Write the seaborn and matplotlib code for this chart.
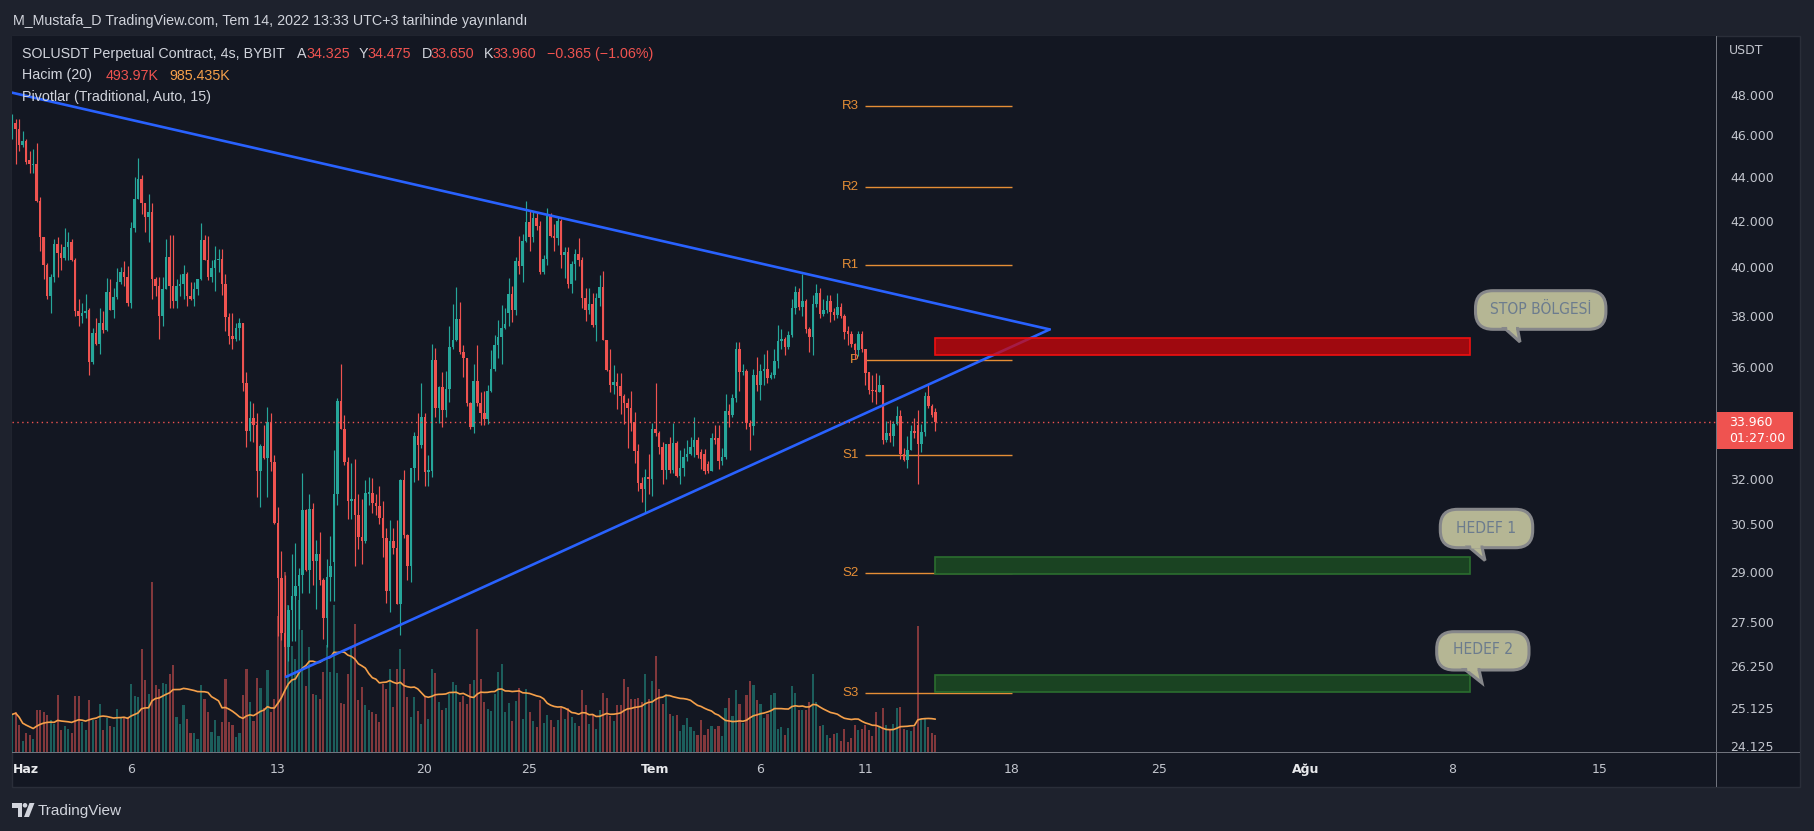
import numpy as np
import pandas as pd
import matplotlib
matplotlib.use("Agg")
import matplotlib.pyplot as plt
import seaborn as sns
from matplotlib.patches import Rectangle, FancyBboxPatch, Polygon, Circle
from matplotlib.transforms import IdentityTransform
from matplotlib.ticker import NullLocator, NullFormatter
from matplotlib import font_manager

# ---------------- data (SOLUSDT 4h, BYBIT) ----------------
opens = [
    45.9, 46.6, 46.3, 45.5, 45.7, 44.8, 44.55, 44.6, 42.9, 41.3,
    40.1, 38.8, 39.6, 41.0, 40.6, 40.4, 40.85, 41.1, 40.3, 38.2,
    38.0, 38.1, 38.25, 36.2, 37.3, 36.9, 37.7, 37.45, 38.97, 38.25,
    38.77, 39.4, 39.8, 39.6, 38.5, 41.7, 43.0, 43.9, 42.8, 42.2,
    42.4, 39.5, 39.2, 38.0, 39.1, 40.45, 39.2, 38.6, 39.2, 39.3,
    39.7, 38.8, 38.7, 39.1, 39.5, 41.15, 40.3, 39.6, 39.95, 40.3,
    40.35, 39.3, 37.95, 37.2, 37.1, 37.5, 37.7, 35.4, 33.65, 34.1,
    33.86, 32.26, 33.12, 32.7, 33.96, 32.57, 30.53, 28.8, 27.2, 26.8,
    27.85, 28.28, 28.57, 28.92, 30.97, 29.06, 31.0, 29.35, 29.54, 28.76,
    27.61, 28.84, 29.3, 31.47, 34.73, 33.72, 32.57, 31.24, 31.31, 30.8,
    30.08, 29.97, 31.5, 31.53, 31.18, 31.09, 30.71, 30.07, 28.42, 29.95,
    29.74, 28.04, 31.97, 30.14, 29.18, 32.37, 33.46, 33.15, 34.17, 32.23,
    32.26, 36.27, 34.49, 35.26, 34.42, 35.19, 36.78, 37.06, 37.89, 36.56,
    36.34, 34.66, 33.79, 35.48, 34.67, 34.31, 34.07, 35.1, 35.93, 36.86,
    37.16, 37.51, 38.11, 38.89, 38.25, 40.28, 40.04, 41.13, 41.94, 41.32,
    42.14, 41.8, 39.82, 40.36, 42.24, 41.35, 41.24, 42.02, 40.52, 40.63,
    39.31, 40.12, 40.55, 40.31, 38.72, 38.25, 38.48, 37.64, 38.72, 39.17,
    37.04, 35.9, 35.33, 35.45, 35.29, 34.91, 34.66, 34.48, 33.97, 32.95,
    31.85, 31.64, 32.07, 31.98, 33.72, 33.58, 33.09, 32.29, 33.19, 32.3,
    33.23, 32.1, 32.37, 32.73, 32.86, 33.1, 33.35, 32.93, 32.86, 32.5,
    32.26, 33.42, 33.4, 32.59, 32.75, 34.37, 34.23, 34.84, 36.71, 35.81,
    35.87, 33.93, 33.84, 35.69, 35.33, 35.84, 35.91, 35.58, 35.69, 36.24,
    37.01, 37.08, 36.78, 37.23, 38.3, 38.97, 38.37, 38.61, 37.46, 37.16,
    38.48, 38.92, 38.07, 38.25, 38.61, 38.14, 38.04, 38.37, 37.99, 37.38,
    37.28, 36.89, 36.64, 37.28, 36.68, 35.8, 35.15, 35.15, 35.08, 35.33,
    33.35, 33.58, 33.46, 33.89, 34.18, 32.86, 32.63, 32.99, 33.64, 33.86,
    33.19, 33.61, 34.91, 34.55, 34.325]
highs = [
    47.0, 46.8, 46.8, 46.2, 45.8, 45.2, 45.3, 45.6, 43.1, 41.3,
    40.2, 39.7, 41.2, 41.3, 41.0, 41.7, 41.5, 41.2, 40.4, 38.7,
    38.5, 38.9, 38.3, 37.5, 37.9, 38.3, 38.2, 39.55, 39.5, 39.15,
    39.95, 40.0, 40.25, 40.05, 41.95, 44.0, 44.9, 44.1, 42.8, 43.2,
    42.8, 39.6, 39.6, 39.6, 41.2, 41.4, 41.4, 39.5, 39.7, 40.1,
    39.8, 39.4, 39.4, 39.5, 41.9, 41.4, 41.35, 40.3, 40.9, 40.8,
    40.8, 39.7, 38.1, 38.1, 37.7, 37.9, 37.7, 35.8, 34.75, 34.65,
    34.3, 33.2, 33.86, 34.5, 34.3, 32.8, 31.05, 29.66, 28.9, 28.0,
    29.55, 29.9, 29.12, 32.2, 31.0, 31.47, 31.18, 30.0, 30.25, 28.82,
    29.41, 30.12, 33.0, 34.84, 36.12, 34.21, 32.73, 32.52, 32.66, 31.5,
    31.31, 31.94, 32.07, 32.03, 31.5, 31.75, 31.24, 30.39, 30.64, 30.37,
    30.62, 32.0, 32.29, 30.2, 32.37, 33.6, 34.31, 35.41, 34.31, 32.8,
    36.89, 36.74, 35.3, 35.82, 35.85, 37.61, 38.48, 39.16, 38.56, 36.86,
    36.34, 34.7, 36.12, 36.86, 35.05, 35.1, 35.33, 36.64, 37.23, 37.84,
    38.45, 38.3, 39.55, 39.23, 40.44, 41.35, 41.43, 42.89, 42.46, 42.46,
    42.37, 42.02, 40.52, 42.59, 42.37, 41.85, 42.19, 42.1, 40.88, 40.85,
    40.28, 40.8, 41.26, 40.44, 39.15, 39.12, 38.92, 38.92, 39.68, 39.84,
    37.04, 36.68, 36.08, 35.77, 35.77, 34.98, 34.84, 35.1, 34.34, 33.19,
    32.07, 32.33, 32.86, 33.93, 35.41, 33.66, 33.26, 33.19, 33.45, 33.93,
    33.3, 32.99, 33.06, 33.33, 33.43, 34.14, 33.45, 33.03, 33.03, 32.6,
    33.58, 33.86, 33.86, 33.06, 34.98, 34.62, 34.98, 36.98, 36.98, 36.12,
    35.91, 34.03, 35.91, 36.39, 36.12, 36.49, 36.64, 35.8, 36.71, 37.64,
    37.46, 37.16, 37.38, 38.69, 39.23, 39.15, 39.71, 38.69, 37.54, 38.84,
    39.31, 39.15, 38.69, 38.84, 38.84, 38.3, 38.92, 38.53, 38.07, 37.61,
    37.38, 36.92, 37.38, 37.38, 36.71, 35.8, 35.69, 35.77, 35.69, 35.33,
    34.0, 34.03, 34.0, 34.55, 34.42, 33.06, 33.46, 33.86, 34.11, 34.4,
    33.89, 35.05, 35.33, 34.62, 34.475]
lows = [
    45.8, 44.6, 45.2, 45.4, 44.6, 44.2, 44.2, 42.85, 40.7, 39.5,
    38.7, 38.1, 39.4, 39.6, 39.9, 40.3, 40.3, 40.25, 38.0, 37.6,
    37.7, 37.9, 35.7, 36.1, 36.85, 36.5, 37.3, 37.4, 38.25, 37.9,
    38.7, 39.3, 39.2, 38.4, 38.3, 41.5, 43.0, 42.3, 41.5, 41.1,
    38.7, 38.8, 37.1, 37.6, 39.1, 38.3, 38.3, 38.3, 38.8, 38.7,
    38.4, 38.65, 38.4, 38.85, 39.47, 40.3, 39.45, 39.4, 39.0, 39.8,
    38.85, 37.4, 36.9, 36.7, 37.0, 37.05, 35.1, 33.1, 33.3, 33.25,
    31.4, 31.05, 32.66, 31.4, 32.26, 30.5, 27.1, 27.0, 25.95, 26.4,
    26.96, 26.96, 27.3, 28.36, 29.04, 28.36, 28.59, 27.9, 28.59, 27.02,
    26.8, 28.13, 28.13, 31.12, 33.72, 32.45, 30.68, 30.68, 29.18, 29.7,
    29.23, 29.9, 31.12, 30.87, 30.8, 30.5, 29.47, 28.07, 27.8, 29.54,
    28.02, 27.13, 30.07, 28.74, 28.69, 31.88, 31.94, 33.06, 31.75, 31.75,
    32.07, 34.15, 33.93, 33.79, 34.15, 34.7, 36.71, 37.0, 36.49, 35.62,
    34.55, 33.72, 33.58, 34.55, 33.86, 33.86, 33.89, 35.05, 35.86, 36.34,
    36.12, 37.49, 37.6, 37.77, 38.04, 39.71, 39.39, 41.1, 40.68, 41.1,
    41.6, 39.71, 39.71, 40.09, 41.3, 40.68, 40.93, 39.95, 39.55, 39.15,
    38.92, 39.47, 40.04, 38.3, 37.79, 38.07, 37.54, 37.01, 38.4, 37.04,
    35.86, 35.05, 35.0, 34.44, 34.26, 33.89, 33.06, 33.66, 32.52, 31.58,
    31.22, 30.9, 31.5, 31.43, 33.46, 32.86, 31.81, 32.0, 32.2, 32.2,
    32.05, 31.81, 32.1, 32.6, 32.8, 32.73, 32.7, 32.33, 32.16, 32.2,
    32.26, 33.2, 32.33, 32.46, 32.66, 33.79, 34.14, 34.7, 35.12, 35.69,
    33.72, 32.99, 33.52, 35.12, 34.77, 35.33, 35.41, 35.55, 35.6, 35.98,
    36.71, 36.45, 36.71, 37.16, 38.07, 38.22, 37.99, 37.31, 36.56, 36.45,
    38.37, 37.92, 38.0, 38.1, 37.77, 37.84, 37.92, 37.92, 37.08, 36.86,
    36.78, 36.29, 36.42, 36.56, 35.33, 34.98, 34.7, 34.62, 35.05, 33.19,
    33.26, 33.26, 33.13, 33.86, 32.66, 32.59, 32.37, 32.99, 33.42, 31.81,
    32.93, 33.46, 34.48, 34.14, 33.65]
closes = [
    46.9, 46.3, 45.5, 45.7, 44.7, 44.6, 44.6, 42.9, 41.3, 40.1,
    38.8, 39.6, 41.0, 40.6, 40.4, 40.85, 41.1, 40.3, 38.2, 38.0,
    38.1, 38.2, 36.2, 37.3, 36.9, 37.7, 37.45, 38.97, 38.25, 38.77,
    39.4, 39.8, 39.6, 38.5, 41.7, 43.0, 43.9, 42.8, 42.2, 42.4,
    39.5, 39.2, 38.0, 39.1, 40.45, 39.2, 38.6, 39.2, 39.3, 39.7,
    38.8, 38.7, 39.1, 39.5, 41.15, 40.3, 39.6, 39.95, 40.3, 40.35,
    39.3, 37.95, 37.2, 37.1, 37.5, 37.7, 35.4, 33.65, 34.1, 33.86,
    32.26, 33.12, 32.7, 33.96, 32.57, 30.53, 28.8, 27.2, 26.8, 27.85,
    28.28, 28.57, 28.92, 30.97, 29.06, 31.0, 29.35, 29.54, 28.76, 27.61,
    28.84, 29.18, 31.47, 34.73, 33.72, 32.57, 31.24, 31.31, 30.8, 30.08,
    29.97, 31.53, 31.53, 31.18, 31.09, 30.71, 30.07, 28.42, 29.95, 29.74,
    28.04, 31.97, 30.14, 29.18, 32.37, 33.46, 33.15, 34.17, 32.23, 32.26,
    36.27, 34.49, 35.26, 34.42, 35.19, 36.78, 37.06, 37.89, 36.56, 36.34,
    34.66, 33.79, 35.48, 34.67, 34.31, 34.07, 35.1, 35.93, 36.86, 37.16,
    37.51, 37.69, 38.89, 38.25, 40.28, 40.04, 41.13, 41.94, 41.32, 42.14,
    41.77, 39.82, 40.36, 42.24, 41.35, 41.24, 42.02, 40.52, 40.63, 39.31,
    40.12, 40.55, 40.31, 38.72, 38.25, 38.48, 37.64, 38.72, 39.17, 37.04,
    35.9, 35.33, 35.45, 35.29, 34.91, 34.66, 34.48, 33.97, 32.95, 31.85,
    31.64, 32.07, 31.98, 33.72, 33.58, 33.09, 32.29, 33.19, 32.3, 33.23,
    32.1, 32.37, 32.73, 32.86, 33.1, 33.35, 32.82, 32.66, 32.26, 32.26,
    33.42, 33.33, 32.59, 32.75, 34.37, 34.23, 34.84, 36.71, 35.81, 35.87,
    33.93, 33.79, 35.69, 35.33, 35.84, 35.91, 35.58, 35.69, 36.24, 37.01,
    37.08, 36.78, 37.23, 38.3, 38.97, 38.37, 38.61, 37.46, 37.16, 38.48,
    38.92, 38.07, 38.25, 38.61, 38.14, 38.04, 38.37, 37.99, 37.34, 37.28,
    36.89, 36.64, 37.28, 36.68, 35.77, 35.15, 35.1, 35.08, 35.33, 33.35,
    33.58, 33.46, 33.89, 34.18, 32.86, 32.63, 32.99, 33.64, 33.58, 33.19,
    33.61, 34.91, 34.55, 34.24, 33.96]
volume_k = [
    1100, 1170, 780, 322, 556, 488, 390, 1238, 1238, 1170,
    1073, 946, 809, 1658, 653, 751, 683, 556, 1628, 1628,
    878, 634, 1531, 926, 946, 1414, 653, 1004, 751, 731,
    1268, 1024, 1024, 1024, 1999, 1628, 1609, 3023, 2096, 1706,
    4973, 1950, 1853, 2018, 1979, 2291, 2535, 1024, 809, 1365,
    975, 566, 556, 390, 1950, 1560, 1170, 585, 926, 458,
    878, 2145, 878, 780, 439, 556, 1658, 2438, 1463, 900,
    2164, 1870, 1290, 2400, 1170, 1550, 3977, 3793, 5265, 4298,
    3100, 2720, 4444, 3567, 1930, 3070, 1700, 1667, 1550, 2340,
    3130, 2340, 4300, 2300, 1440, 1414, 2280, 3040, 3742, 1520,
    1900, 1374, 1219, 1170, 1121, 878, 1979, 1853, 2438, 1316,
    2438, 3023, 2438, 1609, 1024, 1609, 1199, 829, 1609, 975,
    2438, 2311, 1463, 1219, 1297, 1706, 2048, 1950, 1463, 1628,
    1414, 1999, 2096, 3608, 2120, 1463, 1268, 1199, 1687, 2340,
    2564, 1170, 1433, 907, 1482, 1882, 956, 1833, 1170, 897,
    731, 1531, 858, 1073, 926, 731, 926, 1297, 975, 1297,
    1024, 858, 751, 1804, 1365, 809, 1102, 663, 1238, 1726,
    1580, 1053, 907, 1365, 1365, 2145, 1901, 1560, 1560, 1580,
    1463, 2272, 1560, 2077, 2798, 1853, 1414, 1706, 1102, 1053,
    1073, 605, 780, 995, 731, 605, 488, 926, 488, 683,
    761, 663, 761, 468, 1287, 1580, 1043, 1804, 1394, 848,
    1658, 2077, 1950, 1511, 1394, 1004, 1121, 1658, 1726, 683,
    731, 488, 702, 1931, 1726, 1238, 1238, 1238, 1463, 2272,
    1463, 761, 780, 507, 410, 536, 566, 322, 663, 293,
    410, 780, 634, 663, 780, 634, 468, 1170, 731, 1287,
    780, 653, 829, 1297, 1316, 683, 653, 605, 731, 3676,
    956, 975, 731, 556, 494]

first_candle_day = -0.653          # days after 1 Haz of the first candle
candles_per_day = 6
last_price = 33.960

pivot_names = ["R3", "R2", "R1", "P", "S1", "S2", "S3"]
pivot_levels = [47.40, 43.56, 40.11, 36.27, 32.82, 28.98, 25.53]
pivot_span = [40, 47]               # 11 Tem .. 18 Tem

upper_trend_days = [-0.68, 48.8]
upper_trend_prices = [48.1, 37.46]
lower_trend_days = [12.4, 48.8]
lower_trend_prices = [25.96, 37.46]

zone_days = [43.35, 68.82]
stop_zone = [36.47, 37.14]
target1_zone = [28.95, 29.47]
target2_zone = [25.56, 26.01]

tick_days = [0, 5, 12, 19, 24, 30, 35, 40, 47, 54, 61, 68, 75]
tick_labels = ["Haz", "6", "13", "20", "25", "Tem", "6", "11", "18", "25", "Ağu", "8", "15"]
month_labels = ["Haz", "Tem", "Ağu"]
price_ticks = [48, 46, 44, 42, 40, 38, 36, 32, 30.5, 29, 27.5, 26.25, 25.125, 24.125]
price_tick_labels = ["48.000", "46.000", "44.000", "42.000", "40.000", "38.000", "36.000",
                     "32.000", "30.500", "29.000", "27.500", "26.250", "25.125", "24.125"]

assert len(opens) == len(highs) == len(lows) == len(closes) == len(volume_k)

# ---------------- style ----------------
BG = "#131722"
OUTER = "#1e222d"
TXT = "#d1d4dc"
AXTXT = "#c3c6ce"
UP = "#26a69a"
DOWN = "#ef5350"
UP_V = "#1c5e5c"
DOWN_V = "#82383c"
ORANGE = "#f5a04a"
PIV = "#e58e36"
BLUE = "#2962ff"
SEP = "#70737d"

sns.set_theme(style="dark", rc={"axes.facecolor": BG, "figure.facecolor": OUTER,
                                "axes.grid": False})
plt.rcParams["font.family"] = ["DejaVu Sans"]

avail = {f.name for f in font_manager.fontManager.ttflist}
SANS = "Liberation Sans" if "Liberation Sans" in avail else "DejaVu Sans"

W, H = 1814, 831
fig = plt.figure(figsize=(W / 100, H / 100), dpi=100, facecolor=OUTER)


def fx(px):
    return px / W


def fy(py):
    return 1 - py / H


def prect(x0, y0, x1, y1, **kw):
    return Rectangle((x0, H - y1), x1 - x0, y1 - y0, transform=IdentityTransform(), **kw)


# chart frame
fig.add_artist(prect(11.6, 36, 1800, 787, facecolor=BG, edgecolor="#2a2e39", lw=1, zorder=0))

L, R, T, B = 11.6, 1716, 36, 752
rect = [fx(L), fy(B), (R - L) / W, (B - T) / H]
axv = fig.add_axes(rect)
ax = fig.add_axes(rect, sharex=axv)
ax.set_zorder(axv.get_zorder() + 1)
ax.patch.set_visible(False)
axv.set_facecolor(BG)

df = pd.DataFrame({"open": opens, "high": highs, "low": lows, "close": closes, "vol": volume_k})
df["day"] = first_candle_day + np.arange(len(df)) / candles_per_day
df["up"] = df["close"] >= df["open"]
df["vol_ma"] = df["vol"].rolling(20, min_periods=1).mean()

# volume pane
vcols = np.where(df["up"], UP_V, DOWN_V)
axv.bar(df["day"], df["vol"], width=0.1, color=vcols, linewidth=0, zorder=2)
sns.lineplot(x=df["day"], y=df["vol_ma"], ax=axv, color=ORANGE, lw=1.2, zorder=3)
axv.set_ylim(0, (B - T) * 29.24)
axv.set_ylabel("")
axv.set_xlabel("")
axv.tick_params(left=False, bottom=False, labelleft=False, labelbottom=False)
for s in axv.spines.values():
    s.set_visible(False)

# price pane
ax.set_yscale("log")
ccols = np.where(df["up"], UP, DOWN)
ax.vlines(df["day"], df["low"], df["high"], colors=ccols, lw=0.85, zorder=3)
body_lo = np.minimum(df["open"], df["close"])
body_h = np.maximum((df["open"] - df["close"]).abs(), df["close"] * 0.0016)
ax.bar(df["day"], body_h, bottom=body_lo, width=0.12, color=ccols, linewidth=0, zorder=4)

# pivots
ax.hlines(pivot_levels, pivot_span[0], pivot_span[1], colors=PIV, lw=1.0, zorder=2)
for nm, lv in zip(pivot_names, pivot_levels):
    ax.annotate(nm, (pivot_span[0], lv), xytext=(-4.5, 0), textcoords="offset points",
                ha="right", va="center", color=PIV, fontsize=9.5, family=SANS, zorder=2)

# trend lines
sns.lineplot(x=upper_trend_days, y=upper_trend_prices, ax=ax, color=BLUE, lw=1.9, zorder=5)
sns.lineplot(x=lower_trend_days, y=lower_trend_prices, ax=ax, color=BLUE, lw=1.9, zorder=5)

# zones
ax.add_patch(Rectangle((zone_days[0], stop_zone[0]), zone_days[1] - zone_days[0],
                       stop_zone[1] - stop_zone[0], facecolor=(0.81, 0.02, 0.035, 0.75),
                       edgecolor="#f01010", lw=1.2, zorder=6))
for zn in (target1_zone, target2_zone):
    ax.add_patch(Rectangle((zone_days[0], zn[0]), zone_days[1] - zone_days[0],
                           zn[1] - zn[0], facecolor="#1a4322", edgecolor="#2b6e2f",
                           lw=1.2, zorder=6))

# last price line
ax.axhline(last_price, color=DOWN, lw=1.0, ls=(0, (1, 2.5)), zorder=7)

ax.set_xlim(-0.682, 80.56)
ax.set_ylim(23.98, 51.06)
ax.set_xlabel("")
ax.set_ylabel("")
ax.yaxis.tick_right()
ax.set_yticks(price_ticks)
ax.set_yticklabels(price_tick_labels)
ax.yaxis.set_minor_locator(NullLocator())
ax.yaxis.set_minor_formatter(NullFormatter())
ax.tick_params(axis="y", length=0, pad=10, labelsize=9, colors=AXTXT)
ax.set_xticks(tick_days)
ax.set_xticklabels(tick_labels)
ax.tick_params(axis="x", length=0, pad=8.0, labelsize=9, colors=AXTXT)
for lbl in ax.get_xticklabels():
    if lbl.get_text() in month_labels:
        lbl.set_fontweight("bold")
        lbl.set_color("#e8e9ec")
for s in ax.spines.values():
    s.set_visible(False)
ax.grid(False)
axv.grid(False)

# separators
fig.add_artist(prect(1715.5, 36, 1716.5, 787, facecolor=SEP, lw=0, zorder=10))
fig.add_artist(prect(11.6, 751.5, 1800, 752.5, facecolor=SEP, lw=0, zorder=10))

# price axis extras
fig.text(fx(1729), fy(50), "USDT", color=AXTXT, fontsize=9, va="center", ha="left")
fig.add_artist(prect(1716.5, 412, 1793, 449, facecolor=DOWN, lw=0, zorder=11))
fig.text(fx(1729), fy(422), "33.960", color="white", fontsize=9, va="center", ha="left", zorder=12)
fig.text(fx(1729), fy(439), "01:27:00", color="white", fontsize=9, va="center", ha="left", zorder=12)

# header and legend texts
fig.text(fx(13), fy(20.5), "M_Mustafa_D TradingView.com, Tem 14, 2022 13:33 UTC+3 tarihinde yayınlandı",
         color=TXT, fontsize=10.3, family=SANS, va="center", ha="left")
legend1 = [(22.3, "SOLUSDT Perpetual Contract, 4s, BYBIT", TXT), (297, "A", TXT), (306, "34.325", DOWN),
           (359, "Y", TXT), (367.5, "34.475", DOWN), (421.5, "D", TXT), (430.5, "33.650", DOWN),
           (484, "K", TXT), (492.5, "33.960", DOWN), (547, "−0.365 (−1.06%)", DOWN)]
for x, t, c in legend1:
    fig.text(fx(x), fy(54), t, color=c, fontsize=10.3, family=SANS, va="center", ha="left", zorder=12)
legend2 = [(22.3, "Hacim (20)", TXT), (106, "493.97K", DOWN), (169, "985.435K", ORANGE)]
for x, t, c in legend2:
    fig.text(fx(x), fy(75.5), t, color=c, fontsize=10.3, family=SANS, va="center", ha="left", zorder=12)
fig.text(fx(22.3), fy(97), "Pivotlar (Traditional, Auto, 15)", color=TXT, fontsize=10.3,
         family=SANS, va="center", ha="left", zorder=12)

# callouts
CFACE = "#b5b694"
CEDGE = "#86878a"
CTXT = "#6c7c8e"


def callout(x0, y0, x1, y1, tail, text, cx, cy):
    hgt = y1 - y0
    box = FancyBboxPatch((x0, H - y1), x1 - x0, hgt,
                         boxstyle="round,pad=0,rounding_size=%.1f" % (hgt * 0.45),
                         transform=IdentityTransform(), facecolor=CFACE, edgecolor=CEDGE,
                         lw=2.2, zorder=20)
    fig.add_artist(box)
    (ax0, ay0), (tx, ty), (ax1, ay1) = tail
    tri = Polygon([(ax0, H - ay0), (tx, H - ty), (ax1, H - ay1)], closed=True,
                  transform=IdentityTransform(), facecolor=CFACE, edgecolor=CEDGE,
                  lw=2.2, zorder=21)
    fig.add_artist(tri)
    cover = Polygon([(ax0 + 1.8, H - ay0 + 3), (ax0 + 2.5, H - ay0 - 1.5), (ax1 - 1.5, H - ay1 - 1.5),
                     (ax1 - 1.5, H - ay1 + 3)], closed=True, transform=IdentityTransform(),
                    facecolor=CFACE, edgecolor="none", zorder=22)
    fig.add_artist(cover)
    fig.text(fx(cx), fy(cy), text, color=CTXT, fontsize=11.2, family="DejaVu Sans",
             fontstretch="condensed", ha="center", va="center", zorder=23)


callout(1475.5, 290.7, 1605.9, 329.3, [(1505, 328.5), (1520, 342), (1517.5, 328.5)],
        "STOP BÖLGESİ", 1540.5, 309)
callout(1440.3, 509.3, 1532.7, 547.7, [(1469, 547), (1485, 560.5), (1482, 547)],
        "HEDEF 1", 1486.5, 528.5)
callout(1436.7, 631.7, 1529, 670, [(1465, 669.5), (1482, 683), (1479, 669.5)],
        "HEDEF 2", 1483, 650)

# TradingView logo
LOGO = "#d1d4dc"
fig.add_artist(Polygon([(12, H - 803), (22, H - 803), (22, H - 817), (17.5, H - 817),
                        (17.5, H - 807.5), (12, H - 807.5)], closed=True,
                       transform=IdentityTransform(), facecolor=LOGO, edgecolor="none"))
fig.add_artist(Circle((25, H - 805.3), 2.3, transform=IdentityTransform(), facecolor=LOGO,
                      edgecolor="none"))
fig.add_artist(Polygon([(24, H - 817), (29.5, H - 803), (34.5, H - 803), (29, H - 817)], closed=True,
                       transform=IdentityTransform(), facecolor=LOGO, edgecolor="none"))
fig.text(fx(38), fy(810.5), "TradingView", color=LOGO, fontsize=11, family=SANS, va="center", ha="left")

fig.savefig("out.png", dpi=100, facecolor=OUTER)
